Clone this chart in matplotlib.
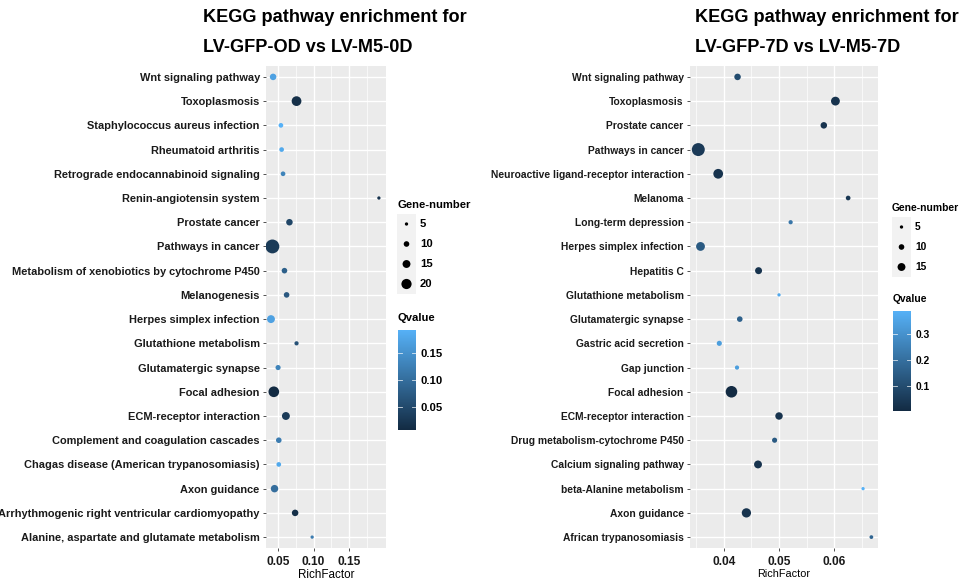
import numpy as np
import matplotlib
matplotlib.use("Agg")
import matplotlib.pyplot as plt
from matplotlib.colors import LinearSegmentedColormap, Normalize
from matplotlib.patches import Rectangle

plt.rcParams['font.family'] = ['Liberation Sans', 'DejaVu Sans']
plt.rcParams['font.weight'] = 'bold'

# left panel: LV-GFP-OD vs LV-M5-0D (top to bottom)
terms_0d = ["Wnt signaling pathway", "Toxoplasmosis", "Staphylococcus aureus infection",
            "Rheumatoid arthritis", "Retrograde endocannabinoid signaling",
            "Renin-angiotensin system", "Prostate cancer", "Pathways in cancer",
            "Metabolism of xenobiotics by cytochrome P450", "Melanogenesis",
            "Herpes simplex infection", "Glutathione metabolism", "Glutamatergic synapse",
            "Focal adhesion", "ECM-receptor interaction", "Complement and coagulation cascades",
            "Chagas disease (American trypanosomiasis)", "Axon guidance",
            "Arrhythmogenic right ventricular cardiomyopathy",
            "Alanine, aspartate and glutamate metabolism"]
rich_0d = [0.043, 0.076, 0.054, 0.055, 0.057, 0.192, 0.066, 0.042, 0.059, 0.062,
           0.040, 0.076, 0.050, 0.044, 0.061, 0.051, 0.051, 0.045, 0.074, 0.098]
genes_0d = [12, 19, 8, 8, 8, 5, 12, 28, 10, 10, 15, 7, 9, 21, 15, 10, 8, 14, 12, 5]
qval_0d = [0.170, 0.015, 0.192, 0.180, 0.130, 0.020, 0.045, 0.030, 0.080, 0.070,
           0.170, 0.060, 0.130, 0.008, 0.030, 0.120, 0.180, 0.100, 0.015, 0.120]

# right panel: LV-GFP-7D vs LV-M5-7D (top to bottom)
terms_7d = ["Wnt signaling pathway", "Toxoplasmosis", "Prostate cancer", "Pathways in cancer",
            "Neuroactive ligand-receptor interaction", "Melanoma", "Long-term depression",
            "Herpes simplex infection", "Hepatitis C", "Glutathione metabolism",
            "Glutamatergic synapse", "Gastric acid secretion", "Gap junction", "Focal adhesion",
            "ECM-receptor interaction", "Drug metabolism-cytochrome P450",
            "Calcium signaling pathway", "beta-Alanine metabolism", "Axon guidance",
            "African trypanosomiasis"]
rich_7d = [0.0425, 0.0602, 0.0581, 0.0354, 0.0390, 0.0625, 0.0521, 0.0358, 0.0463, 0.0500,
           0.0429, 0.0392, 0.0424, 0.0414, 0.0500, 0.0492, 0.0462, 0.0652, 0.0441, 0.0667]
genes_7d = [12, 17, 12, 26, 19, 8, 7, 17, 13, 5, 10, 9, 7, 23, 14, 9, 15, 5, 18, 6]
qval_7d = [0.100, 0.030, 0.030, 0.050, 0.030, 0.040, 0.220, 0.140, 0.030, 0.360,
           0.160, 0.330, 0.330, 0.007, 0.030, 0.140, 0.030, 0.386, 0.030, 0.170]

W, H = 967, 583
cmap = LinearSegmentedColormap.from_list("gg", ["#132B43", "#56B1F7"])
PX = 72.0 / 100  # points per pixel


def msize(g):
    # marker area (pt^2) for a given gene count
    d = (1.0 + 0.46 * np.asarray(g, dtype=float)) * PX
    return d ** 2


def px_axes(fig, x0, y0, w, h):
    return fig.add_axes([x0 / W, 1 - (y0 + h) / H, w / W, h / H])


def dot_panel(fig, box, terms, rich, genes, qval, xlim, major, minor, xlabels, fs):
    ax = px_axes(fig, *box)
    n = len(terms)
    ypos = np.arange(n)[::-1]
    ax.set_facecolor("#EBEBEB")
    for v in minor:
        ax.axvline(v, color="white", lw=0.5, zorder=0)
    for v in major:
        ax.axvline(v, color="white", lw=1.0, zorder=0)
    for yy in ypos:
        ax.axhline(yy, color="white", lw=1.0, zorder=0)
    norm = Normalize(min(qval), max(qval))
    ax.scatter(rich, ypos, s=msize(genes), c=qval, cmap=cmap, norm=norm,
               edgecolors="none", zorder=3)
    ax.set_xlim(*xlim)
    ax.set_ylim(-0.45, n - 0.55)
    ax.set_yticks(ypos)
    ax.set_yticklabels(terms, fontsize=fs, color="#1a1a1a")
    ax.set_xticks(major)
    ax.set_xticklabels(xlabels, fontsize=8.6, color="#1a1a1a")
    ax.tick_params(length=2.5, width=0.6, color="#333333", pad=2)
    ax.tick_params(axis="x", pad=3)
    ax.set_xlabel("RichFactor", fontsize=fs + 0.5, labelpad=1)
    for s in ax.spines.values():
        s.set_visible(False)
    return norm


def size_legend(fig, x0, y0, breaks, fs):
    ax = px_axes(fig, x0, y0, 75, 20 + 20 * len(breaks))
    ax.set_xlim(0, 75)
    ax.set_ylim(20 + 20 * len(breaks), 0)
    ax.axis("off")
    ax.text(0, 8, "Gene-number", fontsize=fs, va="center", ha="left")
    for i, b in enumerate(breaks):
        yc = 27 + 20 * i
        ax.add_patch(Rectangle((0, yc - 10), 19, 20, color="#F2F2F2", lw=0))
        ax.scatter([9.5], [yc], s=msize([b]), color="black", edgecolors="none")
        ax.text(23, yc, str(b), fontsize=fs, va="center", ha="left")


def q_legend(fig, x0, y0, norm, ticks, labels, fs):
    fig.text(x0 / W, 1 - (y0 - 12) / H, "Qvalue", fontsize=fs, va="center", ha="left")
    cax = px_axes(fig, x0, y0, 18, 100)
    grad = np.linspace(0, 1, 256).reshape(-1, 1)
    cax.imshow(grad, aspect="auto", cmap=cmap, origin="lower",
               extent=[0, 1, norm.vmin, norm.vmax])
    cax.set_xlim(0, 1)
    cax.set_ylim(norm.vmin, norm.vmax)
    cax.set_xticks([])
    for t in ticks:
        cax.plot([0, 0.2], [t, t], color="white", lw=0.6, alpha=0.8)
        cax.plot([0.8, 1], [t, t], color="white", lw=0.6, alpha=0.8)
    cax.yaxis.tick_right()
    cax.set_yticks(ticks)
    cax.set_yticklabels(labels, fontsize=fs)
    cax.tick_params(length=0, pad=3)
    for s in cax.spines.values():
        s.set_visible(False)


fig = plt.figure(figsize=(W / 100, H / 100), dpi=100)

norm_l = dot_panel(fig, (266, 66, 120, 482), terms_0d, rich_0d, genes_0d, qval_0d,
                   (0.033, 0.202), [0.05, 0.10, 0.15], [0.075, 0.125, 0.175],
                   ["0.05", "0.10", "0.15"], 7.88)
norm_r = dot_panel(fig, (690, 66, 188, 482), terms_7d, rich_7d, genes_7d, qval_7d,
                   (0.0339, 0.0679), [0.04, 0.05, 0.06], [0.035, 0.045, 0.055, 0.065],
                   ["0.04", "0.05", "0.06"], 7.35)

for x, lines in [(203, ["KEGG pathway enrichment for", "LV-GFP-OD vs LV-M5-0D"]),
                 (695, ["KEGG pathway enrichment for", "LV-GFP-7D vs LV-M5-7D"])]:
    fig.text(x / W, 1 - 18 / H, lines[0], fontsize=13.1, va="center", ha="left")
    fig.text(x / W, 1 - 48 / H, lines[1], fontsize=13.1, va="center", ha="left")

size_legend(fig, 397, 197, [5, 10, 15, 20], 8.1)
q_legend(fig, 398, 330, norm_l, [0.05, 0.10, 0.15], ["0.05", "0.10", "0.15"], 8.1)
size_legend(fig, 892, 200, [5, 10, 15], 7.4)
q_legend(fig, 893, 311, norm_r, [0.1, 0.2, 0.3], ["0.1", "0.2", "0.3"], 7.4)

fig.savefig("out.png", dpi=100, facecolor="white")
